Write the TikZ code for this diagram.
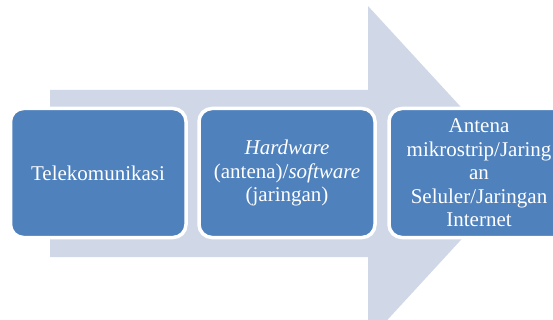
\documentclass[tikz,border=0pt]{standalone}
\usepackage{fontspec}
\setmainfont{Liberation Serif}
\begin{document}
\begin{tikzpicture}[x=1pt,y=-1pt,
  stepbox/.style={rounded corners=13pt, fill=boxblue, draw=white, line width=3.5pt},
  lbl/.style={text=white, font=\fontsize{21}{23.5}\selectfont, align=center}]
\definecolor{boxblue}{HTML}{4F81BD}
\definecolor{arrowfill}{HTML}{D0D8E8}
\useasboundingbox (0,0) rectangle (553,320);
\clip (0,0) rectangle (553,320);
% big arrow
\fill[arrowfill] (50,90) -- (368,90) -- (368,6) -- (522,173.5) -- (368,341) -- (368,257) -- (50,257) -- cycle;
% boxes
\draw[stepbox] (10.5,108.5) rectangle (186,237.5);
\draw[stepbox] (199,108.5) rectangle (375,237.5);
\draw[stepbox] (389,108.5) rectangle (569,237.5);
\node[lbl] (t1) at (98,173) {Telekomunikasi};
\node[lbl] (t2) at (287,173) {\textit{Hardware}\\(antena)/\textit{software}\\(jaringan)};
\node[lbl] (t3) at (479,173) {Antena\\mikrostrip/Jaring\\an\\Seluler/Jaringan\\Internet};
\end{tikzpicture}
\end{document}
